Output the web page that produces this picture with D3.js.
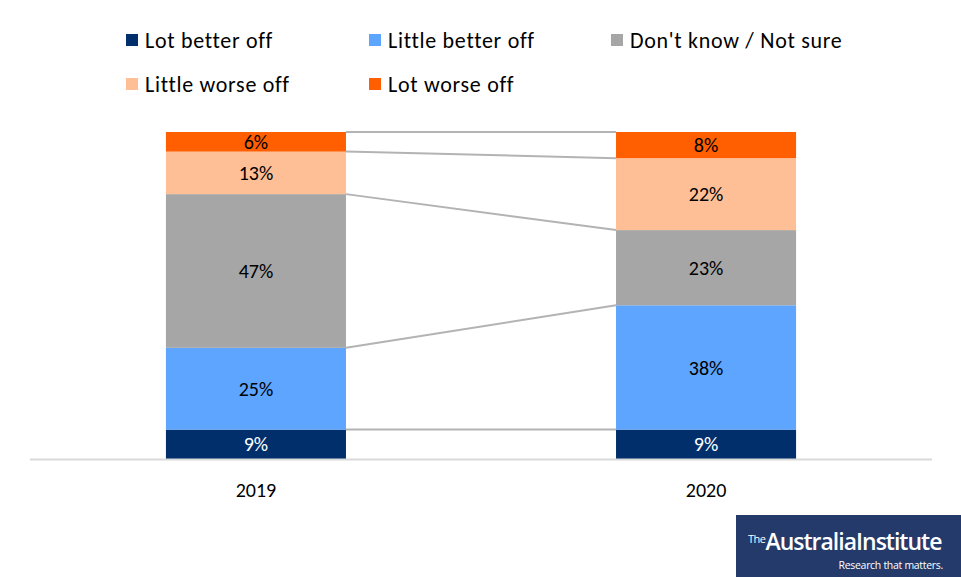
<!DOCTYPE html>
<html>
<head>
<meta charset="utf-8">
<script src="https://cdn.jsdelivr.net/npm/d3@7"></script>
<style>
  html, body { margin: 0; padding: 0; background: #fff; }
  svg { display: block; font-family: Carlito, Calibri, Lato, "Open Sans", sans-serif; }
</style>
</head>
<body>
<svg id="chart" width="961" height="577"></svg>
<script>
// Survey answers by year (percent of respondents), stacked bottom to top
const years = ["2019", "2020"];
const categories = ["Lot better off", "Little better off", "Don't know / Not sure", "Little worse off", "Lot worse off"];
const lotBetter = [9, 9];
const littleBetter = [25, 38];
const dontKnow = [47, 23];
const littleWorse = [13, 22];
const lotWorse = [6, 8];
const colors = ["#002f6c", "#5ea5ff", "#a6a6a6", "#ffbf96", "#ff5f00"];
const labelColors = ["#ffffff", "#000000", "#000000", "#000000", "#000000"];

const seriesValues = [lotBetter, littleBetter, dontKnow, littleWorse, lotWorse];
const rows = years.map((y, i) => {
  const r = { year: y };
  categories.forEach((c, k) => { r[c] = seriesValues[k][i]; });
  return r;
});

const svg = d3.select("#chart");

const x = d3.scaleBand().domain(years).range([30, 932]).paddingInner(0.6).paddingOuter(0.302);
const y = d3.scaleLinear().domain([0, 100]).range([459, 132]);

const stack = d3.stack().keys(categories)(rows);

// connector lines between the tops of matching segments
const g = svg.append("g");
stack.forEach(layer => {
  const a = layer[0], b = layer[1];
  g.append("line")
    .attr("x1", x(years[0]) + x.bandwidth())
    .attr("x2", x(years[1]))
    .attr("y1", y(a[1]))
    .attr("y2", y(b[1]))
    .attr("stroke", "#b3b3b3")
    .attr("stroke-width", 2);
});

// stacked bars
stack.forEach((layer, k) => {
  const lg = g.append("g");
  lg.selectAll("rect").data(layer).join("rect")
    .attr("x", d => x(d.data.year))
    .attr("width", x.bandwidth())
    .attr("y", d => y(d[1]))
    .attr("height", d => y(d[0]) - y(d[1]))
    .attr("fill", colors[k]);
  lg.selectAll("text").data(layer).join("text")
    .attr("x", d => x(d.data.year) + x.bandwidth() / 2)
    .attr("y", d => (y(d[0]) + y(d[1])) / 2)
    .attr("dy", "0.36em")
    .attr("text-anchor", "middle")
    .attr("font-size", 20)
    .attr("fill", labelColors[k])
    .text(d => (d[1] - d[0]) + "%");
});

// category axis
const axis = svg.append("g").attr("transform", "translate(0,459)")
  .call(d3.axisBottom(x).tickSize(0).tickPadding(24));
axis.select(".domain").remove();
axis.append("line").attr("x1", 30).attr("x2", 932).attr("y1", 0.5).attr("y2", 0.5)
  .attr("stroke", "#d9d9d9").attr("stroke-width", 2);
axis.selectAll("text").attr("font-size", 20).attr("fill", "#000")
  .style("font-family", "Carlito, Calibri, Lato, 'Open Sans', sans-serif");

// legend
const legendPos = [[126, 40], [369, 40], [611, 40], [126, 84], [369, 84]];
const leg = svg.append("g");
categories.forEach((c, k) => {
  const [lx, ly] = legendPos[k];
  leg.append("rect").attr("x", lx).attr("y", ly - 6).attr("width", 12).attr("height", 12).attr("fill", colors[k]);
  leg.append("text").attr("x", lx + 19).attr("y", ly).attr("dy", "0.35em")
    .attr("font-size", 22).attr("letter-spacing", 0.7).attr("fill", "#000").text(c);
});

// publisher mark
const logo = svg.append("g");
logo.append("rect").attr("x", 736).attr("y", 515).attr("width", 225).attr("height", 62).attr("fill", "#233a6b");
const t = logo.append("text").attr("x", 748).attr("y", 550).attr("fill", "#fff")
  .style("font-family", "'Open Sans', Lato, sans-serif");
t.append("tspan").attr("font-size", 11).attr("dy", -7).attr("letter-spacing", -0.5).text("The");
t.append("tspan").attr("font-size", 23).attr("font-weight", 600).attr("dy", 7).attr("letter-spacing", -1).text("AustraliaInstitute");
logo.append("text").attr("x", 943).attr("y", 569).attr("text-anchor", "end").attr("font-size", 10.5)
  .attr("letter-spacing", -0.3)
  .attr("fill", "#fff").style("font-family", "'Open Sans', Lato, sans-serif").text("Research that matters.");
</script>
</body>
</html>
